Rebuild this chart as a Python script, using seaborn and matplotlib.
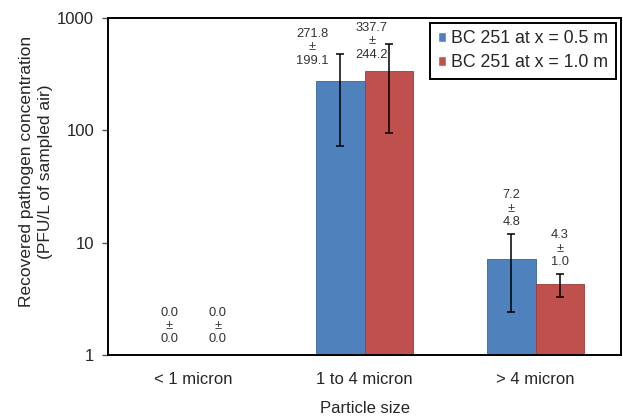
import matplotlib
matplotlib.use("Agg")
import matplotlib.pyplot as plt
import seaborn as sns
import pandas as pd

categories = ["< 1 micron", "1 to 4 micron", "> 4 micron"]
series_names = ["BC 251 at x = 0.5 m", "BC 251 at x = 1.0 m"]
means_05 = [0.0, 271.8, 7.2]
sds_05 = [0.0, 199.1, 4.8]
means_10 = [0.0, 337.7, 4.3]
sds_10 = [0.0, 244.2, 1.0]
yticks = [1, 10, 100, 1000]
ytick_labels = ["1", "10", "100", "1000"]

sns.set_theme(style="white")
plt.rcParams['font.family'] = ['Liberation Sans', 'DejaVu Sans']

df = pd.DataFrame({
    "Particle size": categories * 2,
    "value": means_05 + means_10,
    "series": [series_names[0]] * 3 + [series_names[1]] * 3,
})
means = [means_05, means_10]
sds = [sds_05, sds_10]

colors = ["#4F81BD", "#C0504D"]
edges = ["#3A6499", "#9E3B38"]

fig = plt.figure(figsize=(6.23, 4.17), dpi=100)
ax = fig.add_axes([108 / 623, 1 - 355 / 417, 513 / 623, 337.5 / 417])
sns.barplot(data=df, x="Particle size", y="value", hue="series",
            palette=colors, width=0.565, errorbar=None, saturation=1, ax=ax)
ax.set_yscale("log")
ax.set_ylim(1, 1000)
ax.set_yticks(yticks)
ax.set_yticklabels(ytick_labels)
ax.minorticks_off()
ax.set_xlim(-0.5, 2.5)

# label offsets (points) per category: (dx, dy) for each series
offsets = {1: [(-20, -9), (-12, -12)], 2: [(0, 4), (0, 4)]}
lab_kw = dict(textcoords="offset points", ha="center", va="bottom",
              fontsize=9.3, linespacing=1.15, color="#333333")

bar_containers = list(ax.containers)
for si, cont in enumerate(bar_containers):
    for ci, bar in enumerate(cont):
        bar.set_edgecolor(edges[si])
        bar.set_linewidth(0.6)
        x = bar.get_x() + bar.get_width() / 2
        m = means[si][ci]
        s = sds[si][ci]
        label = f"{m:.1f}\n±\n{s:.1f}"
        if m > 0:
            ax.errorbar(x, m, yerr=s, fmt="none", ecolor="black",
                        elinewidth=1.1, capsize=3, capthick=1.1, zorder=5)
            dx, dy = offsets[ci][si]
            ax.annotate(label, xy=(x, m + s), xytext=(dx, dy), **lab_kw)
        else:
            ax.annotate(label, xy=(x, 1), xytext=(0, 7), **lab_kw)

for sp in ax.spines.values():
    sp.set_color("black")
    sp.set_linewidth(1.4)

ax.tick_params(axis="y", which="major", left=True, length=4, width=1,
               color="#555555", labelsize=12, pad=6)
ax.tick_params(axis="x", bottom=False, labelsize=12, pad=6)

ax.set_xlabel("Particle size", fontsize=12, labelpad=10)
ax.set_ylabel("Recovered pathogen concentration\n(PFU/L of sampled air)",
              fontsize=12.5, linespacing=1.35)
ax.yaxis.set_label_coords(-0.107, 0.544)

leg = ax.legend(loc="upper right", fontsize=12.8, frameon=True, fancybox=False,
                edgecolor="black", framealpha=1, handlelength=0.45,
                handleheight=0.45, handletextpad=0.3, borderaxespad=0.3,
                borderpad=0.42, labelspacing=0.4, title=None)
leg.get_frame().set_linewidth(1.4)

fig.savefig("out.png", dpi=100)
